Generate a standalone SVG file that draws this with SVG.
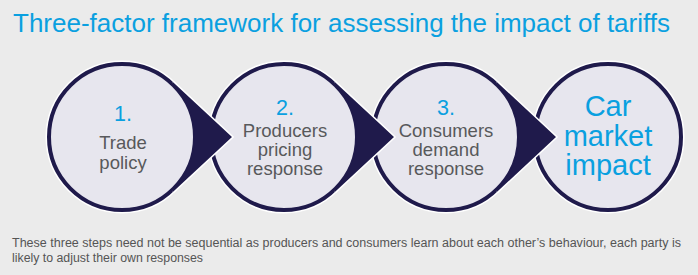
<svg xmlns="http://www.w3.org/2000/svg" width="698" height="275" viewBox="0 0 698 275">
<defs>
<style>
.bg{fill:#ebebeb}
.halo{fill:none;stroke:#ffffff;stroke-width:7}
.ring{fill:#e7e6ee;stroke:#1f1a4b;stroke-width:4}
.arr{fill:#1f1a4b}
.arrh{fill:none;stroke:#ffffff;stroke-width:3;stroke-linejoin:miter}
.t{font-family:"Liberation Sans",Arial,sans-serif;text-anchor:middle}
.num{fill:#0aa0e0;font-size:21.5px}
.lab{fill:#58595b;font-size:18.5px}
.big{fill:#0aa0e0;font-size:29px}
.title{font-family:"Liberation Sans",Arial,sans-serif;fill:#0aa0e0;font-size:26px}
.note{font-family:"Liberation Sans",Arial,sans-serif;fill:#555555;font-size:12.3px}
</style>
</defs>
<rect class="bg" x="0" y="0" width="698" height="275"/>
<text class="title" x="13" y="32">Three-factor framework for assessing the impact of tariffs</text>

<g id="node1">
<circle class="halo" cx="122" cy="137" r="73"/>
<circle class="ring" cx="122" cy="137" r="73"/>
<text class="t num" x="123" y="121">1.</text>
<text class="t lab" x="123" y="149">Trade</text>
<text class="t lab" x="123" y="169">policy</text>
</g>
<g id="node2">
<circle class="halo" cx="284" cy="137" r="73"/>
<circle class="ring" cx="284" cy="137" r="73"/>
<text class="t num" x="285" y="115">2.</text>
<text class="t lab" x="285" y="136.5">Producers</text>
<text class="t lab" x="285" y="156">pricing</text>
<text class="t lab" x="285" y="175">response</text>
</g>
<g id="node3">
<circle class="halo" cx="446" cy="137" r="73"/>
<circle class="ring" cx="446" cy="137" r="73"/>
<text class="t num" x="446" y="115">3.</text>
<text class="t lab" x="446" y="136.5">Consumers</text>
<text class="t lab" x="446" y="156">demand</text>
<text class="t lab" x="446" y="175">response</text>
</g>
<g id="node4">
<circle class="halo" cx="608" cy="137" r="73"/>
<circle class="ring" cx="608" cy="137" r="73"/>
<text class="t big" x="608" y="116">Car</text>
<text class="t big" x="608" y="145.5">market</text>
<text class="t big" x="608" y="175">impact</text>
</g>

<g id="connectors">
<polyline class="arrh" points="173.1,82.2 232,137 173.1,191.8"/>
<path class="arr" d="M173.1,82.2 L232,137 L173.1,191.8 L171.8,190.4 A73,73 0 0 0 171.8,83.6 Z"/>
<polyline class="arrh" points="335.1,82.2 394,137 335.1,191.8"/>
<path class="arr" d="M335.1,82.2 L394,137 L335.1,191.8 L333.8,190.4 A73,73 0 0 0 333.8,83.6 Z"/>
<polyline class="arrh" points="497.1,82.2 556,137 497.1,191.8"/>
<path class="arr" d="M497.1,82.2 L556,137 L497.1,191.8 L495.8,190.4 A73,73 0 0 0 495.8,83.6 Z"/>
</g>

<text class="note" x="12" y="246.5" textLength="669" lengthAdjust="spacingAndGlyphs">These three steps need not be sequential as producers and consumers learn about each other’s behaviour, each party is</text>
<text class="note" x="12" y="261.5" textLength="191" lengthAdjust="spacingAndGlyphs">likely to adjust their own responses</text>
</svg>
